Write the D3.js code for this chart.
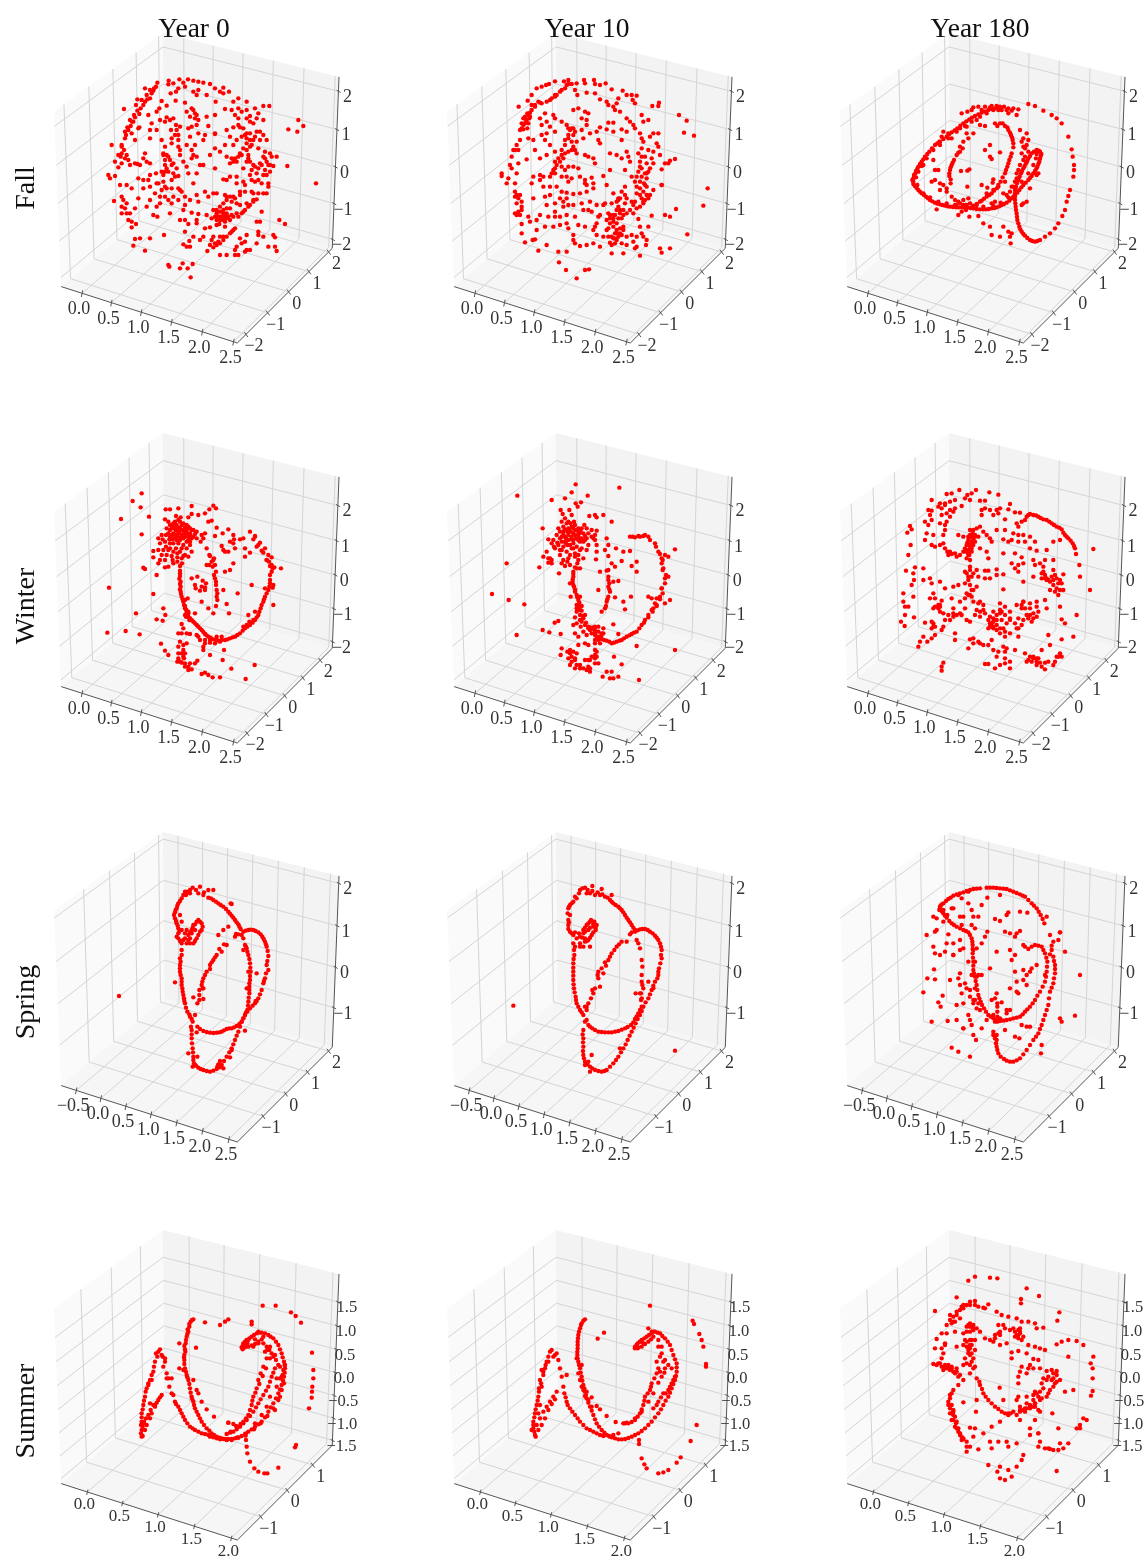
<!DOCTYPE html>
<html><head><meta charset="utf-8">
<script src="https://cdn.jsdelivr.net/npm/d3@7"></script>
<style>html,body{margin:0;padding:0;background:#fff}svg{display:block;filter:blur(0.35px)}text{font-family:"Liberation Serif",serif}</style>
</head><body><div id="chart"></div>
<script>
const seasons=["Fall","Winter","Spring","Summer"];
const years=["Year 0","Year 10","Year 180"];
const xLimits=[[-0.36,2.56],[-0.36,2.56],[-0.81,2.66],[-0.38,2.08]];
const yLimits=[[-2.39,2.19],[-2.5,2.7],[-2.1,2.18],[-1.85,1.8]];
const zLimits=[[-2.25,2.37],[-2.2,2.8],[-2.0,2.17],[-1.61,2.08]];
const xTicks=[[0,0.5,1,1.5,2,2.5],[0,0.5,1,1.5,2,2.5],[-0.5,0,0.5,1,1.5,2,2.5],[0,0.5,1,1.5,2]];
const yTicks=[[-2,-1,0,1,2],[-2,-1,0,1,2],[-1,0,1,2],[-1,0,1]];
const zTicks=[[-2,-1,0,1,2],[-2,-1,0,1,2],[-1,0,1,2],[-1.5,-1,-0.5,0,0.5,1,1.5]];
// Projected positions: [across, down] view units, three per page pixel, flat pairs.
const fallYear0=[285,145,300,150,322,128,318,140,310,152,300,175,285,185,262,178,258,195,272,205,222,207,262,212,252,225,240,240,232,262,225,275,268,262,295,225,320,215,335,183,350,197,328,205,356,122,355,133,370,130,388,118,400,128,414,118,430,122,445,125,460,128,480,132,495,145,510,155,520,160,537,155,520,143,378,155,362,160,385,145,405,140,430,155,445,150,405,188,377,182,440,165,470,165,497,185,525,207,545,210,550,185,565,175,590,185,565,205,575,215,590,210,615,205,640,198,658,198,565,235,600,228,625,220,640,240,610,250,570,262,580,265,550,262,530,270,495,282,465,285,475,258,470,230,495,225,440,225,425,205,435,235,440,255,420,230,410,215,390,260,370,235,350,232,345,245,363,270,380,270,365,295,385,285,365,310,345,320,385,320,390,345,350,345,340,340,360,360,350,385,370,370,345,375,335,395,370,400,385,408,325,430,345,440,345,470,355,480,365,490,330,490,400,365,410,380,430,345,425,355,440,350,450,375,460,375,415,400,440,400,495,385,495,325,495,280,435,315,430,430,390,450,405,470,405,495,420,480,445,485,475,470,500,460,525,465,550,470,570,455,585,455,610,460,640,460,655,430,650,405,660,395,575,290,590,295,600,300,610,300,615,290,590,310,580,325,570,340,555,355,545,355,530,350,560,365,595,355,600,365,615,380,630,370,645,355,660,340,680,350,670,378,645,390,620,400,600,405,580,385,560,410,540,410,520,418,605,420,580,425,585,435,615,425,635,430,655,440,650,460,645,335,625,325,630,300,640,285,630,275,620,275,585,285,712,378,798,430,715,268,745,240,760,258,742,275,185,315,215,315,225,295,255,300,245,280,265,265,215,340,195,365,215,370,205,382,235,360,255,370,270,375,285,340,290,365,300,370,265,415,280,420,295,420,300,405,318,400,175,405,180,415,195,408,210,435,230,435,245,445,215,470,220,480,192,483,230,490,215,500,225,505,215,520,230,520,235,540,245,545,258,552,245,562,320,430,315,460,300,480,310,525,322,530,285,632,255,597,270,595,250,617,300,595,342,585,490,510,500,520,510,515,520,510,530,520,515,530,525,530,520,540,505,530,495,530,485,535,535,530,545,525,560,520,575,520,585,510,600,495,610,485,620,478,570,495,545,485,530,480,520,490,530,505,570,465,555,475,525,545,550,570,540,580,530,590,520,600,510,610,500,615,490,622,490,590,510,590,485,600,470,525,445,522,425,518,390,540,405,540,415,552,440,540,440,550,465,565,480,562,500,555,405,575,575,610,585,605,590,585,625,575,625,585,630,545,620,545,635,515,688,540,705,552,670,585,675,592,675,620,680,633,590,630,600,630,585,635,555,630,555,645,565,645,530,645,510,645,400,613,418,603,420,620,410,620,472,633,355,675,358,680,398,670,390,685,413,685,428,672,422,712,508,552,525,560,246,245,255,232,268,222,280,195,292,178,305,160,312,145,235,270,228,285,215,320,222,330,230,345,212,350,340,345,355,350,345,360,365,375,355,395,375,410,340,405,385,300,378,255,360,240,375,285,390,330,385,445,395,455,350,445,365,445,430,210,435,220,445,240,425,260,415,265,600,320,590,330,575,345,565,350,550,365,540,370,625,385,635,375,650,365,665,350,610,375,605,390,590,365,610,480,595,500,580,515,565,530,550,530,540,505,510,500,500,510,530,470,545,575,555,565,520,590,505,605,495,610,480,615,510,530,520,520,500,540,510,540,530,535,540,540,275,180,290,165,250,245,242,258,340,425,335,450,380,385,345,395,590,280,600,280,605,315,595,345,640,350,655,375,640,405,625,420,540,470,560,490,590,490,205,345,225,355,240,375,262,372,280,355,335,300,300,295,320,270,330,240,305,250,300,270,410,315,425,330,420,290,445,280,460,300,480,345,510,335,525,315,550,315,560,300,540,290,565,255,555,225,600,245,590,235,620,235,650,300,660,375,625,460,605,455,560,430,530,420,490,460,465,455,440,465,400,510,385,480,370,470,365,420,300,440,280,445,265,475,255,505,240,520,290,500,330,470,320,500,360,520,450,600,460,590,430,590,570,595,560,620,640,590,620,610,655,620];
const fallYear10=[236,110,263,92,275,75,290,55,305,50,318,45,327,42,345,34,372,34,385,30,395,42,410,40,432,30,435,40,462,30,465,42,480,45,497,40,515,58,548,62,560,75,575,75,590,77,578,90,585,100,637,108,657,98,655,108,717,135,740,152,732,188,762,197,803,355,790,407,742,493,708,417,675,435,690,440,665,345,665,298,685,280,690,272,705,267,675,280,345,75,380,45,375,55,360,65,350,75,335,85,320,95,305,100,295,95,285,105,275,120,265,135,260,150,255,160,245,175,262,175,240,180,250,165,268,145,300,145,315,130,340,135,345,145,365,155,400,120,415,115,435,125,445,130,425,145,440,150,440,165,425,180,405,60,412,75,440,68,465,70,480,88,500,95,505,105,520,110,530,100,535,85,525,120,540,125,560,145,570,155,580,165,605,135,610,155,625,150,585,175,600,190,520,158,505,158,500,178,480,172,520,185,545,178,560,185,545,210,605,205,630,200,640,190,655,190,650,220,655,230,610,215,605,235,625,240,615,260,635,265,640,245,660,255,605,260,595,250,560,245,565,260,545,265,530,255,510,250,570,275,555,300,600,290,595,305,605,295,630,295,605,320,590,320,620,325,615,345,610,365,605,385,625,385,640,360,665,345,585,335,575,320,555,350,510,300,490,318,455,323,460,340,435,330,460,355,435,340,395,325,385,335,380,320,415,295,400,290,385,290,345,185,320,190,330,170,320,155,305,165,305,195,315,210,330,225,345,245,365,240,375,250,370,265,360,275,350,285,340,300,330,320,310,320,300,330,280,320,275,340,380,165,395,175,405,185,385,195,375,210,395,215,400,230,410,250,385,245,435,255,460,265,465,280,445,260,480,220,475,210,450,190,430,205,470,185,280,210,265,205,240,210,230,225,235,240,225,240,220,240,260,268,215,260,210,285,215,295,235,280,230,310,225,340,205,325,200,340,185,310,185,318,285,240,300,265,320,255,365,365,380,368,400,372,420,370,440,365,330,350,350,350,315,380,320,405,325,440,345,425,370,395,385,405,400,405,425,400,360,440,380,435,370,410,415,465,435,470,445,420,455,425,480,435,490,405,515,400,530,395,555,375,580,405,560,385,535,385,585,395,600,375,620,350,610,395,630,375,615,390,600,410,580,430,560,430,540,430,520,435,505,430,520,445,530,460,545,445,550,420,535,410,510,435,465,470,470,495,500,480,520,470,525,490,530,510,545,495,535,500,525,520,515,525,550,480,595,447,600,470,605,490,625,470,635,437,620,510,580,515,590,530,560,525,515,550,550,550,585,535,600,557,618,525,660,535,690,535,665,548,400,495,400,510,405,520,420,528,440,525,460,520,480,530,505,475,490,500,230,375,225,365,235,385,230,400,245,395,245,420,230,435,240,435,225,430,245,462,245,490,255,517,278,510,285,508,295,542,270,455,290,450,300,435,265,440,357,577,378,600,435,600,447,598,410,625,385,475,320,525,355,545,380,545,345,440,258,155,270,128,250,178,285,110,300,98,330,90,345,80,365,60,385,42,250,145,265,160,390,180,400,195,385,205,410,215,375,225,365,255,355,265,345,295,335,310,345,275,530,420,540,420,525,435,510,445,520,455,535,445,550,435,570,420,590,415,610,400,620,375,612,340,600,335,620,310,530,480,540,475,530,490,520,505,510,518,525,505,540,490,550,470,225,380,240,375,245,410,235,425,270,140,262,130,275,105,255,140,245,160,400,175,385,175,405,240,395,240,375,300,365,290,345,310,365,320,420,320,440,345,380,385,360,385,345,400,330,375,300,315,310,350,280,385,615,310,625,305,640,280,620,280,600,275,590,350,600,355,590,370,575,395,555,400,540,385,495,400,470,405,450,395,430,420,405,440,380,460,360,465,340,470,290,480,315,470,475,440,500,450,510,460,590,500,575,495,610,500,460,480,470,460,505,500,515,500,545,520,560,500,535,390,545,365,520,370,500,345];
const fallYear180=[100,265,102,255,108,243,115,230,125,215,135,200,148,185,165,165,180,155,200,140,215,127,232,115,250,100,268,88,285,78,305,68,325,60,345,55,360,50,100,275,105,288,115,300,125,310,138,320,150,330,165,338,180,343,195,347,210,350,228,352,245,352,262,352,280,355,300,358,318,358,335,355,350,352,365,345,380,338,395,325,405,315,418,300,430,285,445,270,455,258,465,243,472,230,478,215,482,198,480,185,470,180,455,190,445,205,438,220,430,235,423,250,415,270,408,290,405,310,405,330,407,350,410,370,412,390,418,410,425,425,435,437,450,450,465,455,480,450,495,440,510,430,525,415,535,400,547,378,555,360,560,335,565,318,570,300,580,260,582,240,582,225,578,200,575,178,565,140,545,100,530,85,515,75,490,62,465,48,445,42,345,100,360,100,375,108,385,120,393,135,398,150,400,172,395,190,388,210,382,230,375,250,362,275,350,295,335,310,320,320,305,332,290,342,240,185,230,195,222,210,215,225,210,240,208,258,212,280,200,295,190,285,180,280,165,270,155,275,165,240,175,240,130,225,160,210,178,155,190,125,185,140,205,130,215,145,240,115,260,110,262,65,245,70,280,52,295,50,315,50,335,48,350,48,365,60,385,55,400,55,415,58,385,70,290,90,300,105,315,108,260,130,280,130,265,145,250,155,240,170,330,165,315,180,360,187,330,200,335,207,243,243,262,242,268,238,262,290,305,285,322,293,340,268,338,278,300,335,320,310,340,300,355,290,375,275,415,265,470,255,410,75,420,120,440,130,445,150,440,165,430,145,425,155,435,175,445,185,430,210,410,265,180,300,200,305,215,320,225,330,235,335,250,330,265,325,225,345,250,345,245,365,235,375,268,380,295,378,170,358,310,400,330,410,335,435,370,410,385,425,390,440,395,430,360,440,392,460,425,345,450,295,440,335,430,340,395,290,380,315,370,310,345,335,335,340,475,250,103,260,106,250,112,236,120,222,130,208,142,192,156,175,172,160,190,147,207,133,224,121,241,107,259,94,276,83,295,73,315,64,335,57,352,52,372,50,97,270,100,282,110,294,120,305,132,315,144,325,157,334,172,341,187,345,203,349,219,351,236,352,253,353,271,354,290,357,309,358,326,357,343,354,358,349,372,342,388,332,400,320,412,308,424,292,437,278,450,264,460,250,469,236,475,222,480,206,484,192,476,182,462,185,450,198,442,212,434,228,426,243,419,260,411,280,406,300,405,320,406,340,408,360,411,380,415,400,421,418,430,432,442,444,457,453,472,453,108,262,115,245,125,228,140,205,160,180,180,165,205,145,230,125,255,108,275,95,300,80,320,70,340,60,112,285,130,310,150,322,175,335,200,340,228,345,255,345,280,347,310,350,340,348,362,338,385,322,405,300,425,275,445,250,460,225,468,205,470,192,352,108,368,100,382,112,390,128,396,142,400,160,392,200,385,220,378,240,368,262,355,285,342,302,328,315,312,326,248,175,235,188,218,218,212,232,208,250,212,268,278,350,260,345,240,340,258,360,270,340,290,345,430,170,425,190,435,200,440,215,420,225,415,240,410,250,405,275,400,290,390,305,305,60,330,52,355,60,380,60,395,62,275,60];
const winterYear0=[155,40,128,63,152,82,177,110,93,117,155,163,160,263,165,267,200,285,57,323,190,342,220,385,138,400,200,418,226,405,218,422,52,458,107,453,149,463,213,491,225,512,235,525,227,88,240,88,265,85,305,78,258,108,272,112,295,112,305,102,325,105,345,100,358,88,370,77,378,85,355,125,365,122,380,143,375,168,398,160,415,148,430,165,432,178,420,185,225,118,235,125,240,135,250,130,260,135,270,125,280,130,290,135,300,145,310,150,320,155,335,165,345,160,230,145,240,150,250,145,260,150,270,145,280,150,290,150,300,160,310,170,320,175,235,160,245,165,255,165,265,160,275,165,285,160,295,170,305,175,250,175,260,180,270,180,280,175,290,185,300,185,340,175,332,185,215,165,205,175,210,190,225,185,240,190,250,190,265,190,280,195,290,205,300,195,305,215,190,213,205,210,220,210,235,210,250,215,270,215,285,225,295,230,190,232,210,240,225,240,248,240,262,245,275,235,205,250,225,262,235,260,250,250,270,258,270,272,270,288,272,305,272,320,272,335,275,350,280,365,285,360,293,355,285,385,290,395,285,405,295,410,305,420,315,430,325,440,335,450,345,462,355,470,370,478,385,482,405,480,420,475,435,470,450,460,465,445,480,435,495,420,505,405,512,385,520,365,525,350,535,330,540,310,540,285,548,265,545,255,537,245,535,225,525,205,510,188,495,168,480,155,460,175,450,178,430,190,415,215,395,198,405,215,350,205,358,225,370,240,375,255,378,275,375,295,378,315,382,340,382,360,378,378,370,400,355,385,350,255,372,235,358,255,405,275,420,270,430,250,400,210,435,205,465,230,465,205,480,218,495,170,505,195,515,212,530,240,545,232,553,262,573,265,305,295,322,290,338,302,348,310,345,322,317,325,330,332,335,320,345,330,315,315,335,365,400,330,443,340,410,372,550,375,417,400,485,315,550,315,525,325,548,323,475,405,490,420,460,440,470,435,478,425,495,395,300,415,290,410,298,420,315,400,345,480,360,480,380,470,395,470,330,480,325,470,340,500,340,510,345,490,360,525,402,510,398,540,424,566,494,555,467,597,390,592,368,592,335,582,345,578,355,585,275,432,280,445,265,460,275,460,290,460,300,462,320,465,270,485,280,495,265,500,280,510,265,520,285,520,262,545,272,545,285,550,295,560,305,568,300,550,315,550,322,542,280,530,282,535,245,140,255,138,265,142,275,135,285,142,295,140,305,150,315,162,240,170,250,160,262,170,272,172,285,170,295,180,270,280,268,296,270,312,270,328,273,342,278,358,282,375,288,388,295,400,300,415,310,425,320,435,330,445,340,456,350,466,362,473,378,480,395,480,412,478,428,472,442,465,458,452,472,440,488,428,500,412,508,395,515,375,522,358,530,340,538,320,540,300,545,275,540,258,530,240,520,218,500,200,490,178,285,378,295,395,288,410,360,228,365,245,368,260,372,285,378,305,380,330,380,350,276,250,280,228,262,232,300,420,290,400,255,125,265,120,272,150,282,155,258,152,268,155,292,160,302,168,258,168,248,178,238,178,228,165,218,178,228,200,240,205,258,205,275,205,262,220,245,228,230,225,215,225,275,548,285,560,295,570,265,535,275,520,290,490,345,462,360,488,375,490,390,485,380,480];
const winterYear10=[287,13,418,23,275,37,323,47,112,47,255,55,215,60,303,67,287,70,293,80,242,90,248,102,268,90,275,105,255,115,245,125,265,125,328,108,345,105,350,112,370,105,395,125,313,135,188,145,235,145,250,140,265,145,275,140,285,135,295,145,305,145,320,145,335,150,350,152,240,155,250,155,262,155,272,155,285,150,295,155,310,160,325,160,345,165,230,165,245,170,255,170,265,165,275,170,285,165,295,165,305,175,320,175,340,175,205,178,220,180,245,185,255,185,265,180,280,180,295,180,310,185,325,195,350,195,380,175,215,190,235,195,250,200,270,195,290,200,345,180,200,215,225,205,245,210,260,215,280,205,300,210,320,210,350,215,375,210,385,195,190,230,210,235,205,248,215,250,240,225,265,235,285,230,295,240,310,235,348,238,385,228,178,262,245,250,255,258,270,255,290,265,300,265,237,280,360,275,385,270,280,275,280,290,278,305,270,310,282,320,285,335,290,345,272,350,300,350,295,360,290,375,305,378,290,385,300,390,300,405,315,405,310,415,300,420,285,412,305,425,315,435,325,440,335,447,345,450,355,455,345,465,355,470,365,477,380,482,395,490,410,485,425,480,440,470,455,462,470,455,485,435,495,420,505,405,515,390,525,370,540,350,545,325,555,295,565,290,548,270,545,250,545,235,535,215,525,190,510,180,495,165,480,170,465,172,450,170,380,272,385,300,385,320,390,335,385,350,380,365,375,385,365,395,415,303,400,305,408,205,430,215,425,243,450,213,470,245,455,258,405,260,395,250,470,275,355,330,405,352,430,365,435,388,453,350,505,350,515,355,530,355,545,325,555,370,570,360,530,375,520,385,585,208,555,225,565,230,585,510,400,433,415,462,470,498,402,530,425,553,395,575,380,575,368,590,390,595,400,595,415,590,477,600,110,465,80,250,36,342,86,360,133,373,188,450,208,457,242,462,224,428,235,423,245,505,242,525,290,430,280,435,285,460,295,470,310,455,330,450,345,440,370,445,365,460,345,490,360,490,295,495,315,490,325,495,350,515,345,525,335,530,270,510,280,515,290,520,265,535,275,545,290,555,300,565,320,570,330,575,325,540,345,550,355,550,315,540,270,520,285,535,255,148,268,150,280,145,292,150,300,158,315,168,258,175,272,178,288,175,300,185,262,195,275,205,285,220,292,250,285,262,280,282,278,298,280,315,285,328,292,352,298,368,295,380,305,392,308,408,318,428,330,442,345,458,360,473,372,480,388,485,402,488,418,482,432,475,448,466,462,458,478,445,492,428,505,412,518,395,530,378,540,358,548,340,555,310,558,285,550,265,548,240,540,222,528,200,505,170,490,168,475,168,458,170,385,290,388,310,388,328,382,358,378,378,325,445,340,442,355,440,370,460,355,480,345,480,285,540,300,555,310,565,325,560,275,530,260,130,272,130,282,125,250,165,280,160,302,150,258,190,280,190,300,175,315,180,335,170,240,175,232,188,222,200,205,235,215,240,250,240,240,210,270,225,262,245,295,225,305,205,290,395,298,378,302,440,365,465,350,470,335,460,320,465,262,515,270,555,285,565,345,510,350,530,330,565,330,540,345,535];
const winterYear180=[208,30,258,30,298,37,325,44,185,40,170,42,232,45,245,40,225,55,195,60,165,70,150,70,125,60,180,65,215,78,240,60,270,62,285,62,360,72,330,85,355,88,375,97,390,98,285,85,300,90,320,90,325,100,310,105,275,90,275,105,195,85,180,90,165,75,145,80,155,85,115,90,125,92,120,105,105,125,125,120,115,135,155,105,170,100,190,95,180,110,170,125,165,135,165,150,160,165,150,130,60,138,65,148,52,158,62,195,55,225,110,160,105,180,130,165,125,195,135,200,150,195,165,205,180,215,175,225,195,220,210,225,235,225,205,165,220,170,240,150,250,150,260,145,270,140,280,155,290,165,300,175,305,185,235,170,245,170,255,170,265,170,235,180,245,185,255,185,230,195,240,195,250,195,225,205,235,210,245,205,220,215,235,220,230,235,270,205,290,215,295,235,320,150,345,150,385,140,405,120,395,125,415,105,430,105,445,110,460,118,470,120,485,130,500,140,515,148,525,165,535,175,548,190,555,205,558,222,380,130,345,118,370,160,385,165,400,165,420,170,435,185,405,185,385,185,365,180,340,178,355,185,340,220,420,205,440,212,470,210,490,185,510,180,610,207,568,255,570,290,600,330,560,405,550,470,525,430,515,418,510,380,490,240,465,240,450,250,430,240,375,220,395,232,400,250,385,255,365,250,375,265,385,275,435,255,460,260,465,285,490,270,495,285,520,283,455,295,470,295,480,305,490,315,500,325,515,310,520,330,505,345,480,330,430,290,400,305,340,328,320,285,300,295,285,295,285,272,295,272,320,268,340,283,240,260,225,275,235,290,245,290,225,310,240,315,260,320,205,315,190,320,165,325,150,305,120,295,100,265,75,262,70,280,72,300,65,315,48,272,100,300,125,310,130,340,135,355,155,362,150,375,145,385,130,385,70,350,40,340,40,365,45,380,55,380,45,405,72,412,33,425,44,438,105,428,125,425,130,440,155,450,135,465,125,475,112,485,90,485,85,500,195,480,240,478,235,505,120,355,185,355,210,365,235,345,190,385,200,405,225,385,230,420,240,425,215,405,190,400,175,405,165,420,250,365,265,370,280,390,270,410,285,400,295,420,300,430,310,440,320,450,320,405,335,395,330,370,345,380,360,395,380,375,400,365,420,370,440,365,465,360,395,385,410,405,425,425,440,410,440,380,470,385,385,415,380,445,360,460,345,470,330,460,310,425,300,440,385,470,475,465,515,478,480,495,250,475,265,485,280,495,295,495,310,510,325,515,345,515,375,510,405,520,430,530,415,540,440,545,465,548,490,555,510,520,515,530,500,530,455,510,495,545,465,568,360,565,345,535,360,545,330,555,315,565,295,552,285,552,160,548,155,560,155,572,345,550,320,530,305,480,410,110,420,102,438,106,452,114,478,125,492,135,508,143,520,158,530,170,542,182,552,198,240,200,245,188,238,172,250,178,228,215,238,225,232,188,255,165,248,160,240,165,245,215,240,240,160,190,172,215,185,222,200,230,230,280,235,300,240,270,250,280,455,280,465,295,475,300,490,300,460,275,505,310,495,335,400,365,395,375,405,385,420,385,430,400,415,415,400,420,330,400,320,420,310,415,305,430,295,445,330,445,345,455,260,390,270,395,255,405,430,535,425,545,440,535,450,548,210,400,150,380,145,375,135,380,150,395,160,400,180,420,190,410,245,350,230,340,245,330,225,355,280,375,270,365,300,410,310,395,320,435,335,420,350,430,340,445,310,445,360,420,375,430,385,445,395,435,420,405,430,415,445,395,130,430,135,440,160,440,125,445,100,470,195,460,250,490,270,490,340,500,350,505,410,545,420,530,445,535,475,545,505,530,455,560,440,555,470,300,485,290,500,295,510,300,510,330,240,345,250,330,260,270,265,290,330,390,345,405,360,415];
const springYear0=[27,363,195,322,240,45,225,50,248,38,270,35,295,45,310,45,265,55,280,60,295,68,310,75,325,85,340,95,355,110,365,122,375,135,385,148,392,162,362,85,228,60,215,70,205,85,200,100,195,112,195,130,200,145,205,160,205,175,205,190,215,205,230,205,240,205,210,120,215,140,235,180,245,165,250,150,260,140,270,140,278,155,270,170,260,190,250,205,245,175,255,165,225,190,215,225,210,250,210,270,210,290,215,310,215,330,218,350,222,370,225,385,232,410,240,425,248,440,255,420,262,455,280,468,300,473,320,473,335,470,350,462,365,460,380,453,395,440,405,420,412,405,415,380,418,355,418,335,420,315,422,290,420,265,415,240,410,220,405,210,400,190,395,180,375,185,385,178,400,170,415,165,430,165,445,172,457,185,465,200,470,215,475,243,470,270,475,285,465,310,460,325,455,345,445,370,435,385,420,400,405,420,395,440,385,470,375,495,365,520,350,545,335,570,320,582,300,590,280,585,265,578,252,565,250,545,248,520,245,490,245,465,235,535,360,547,405,467,355,155,340,165,325,180,350,210,335,230,320,240,310,255,300,270,290,290,280,310,275,330,268,345,268,375,262,385,280,372,280,340,250,367,365,87,378,177,400,225,415,290,440,295,410,340,437,378,325,568,365,525,340,580,330,558,260,472,232,50,220,60,210,78,202,92,197,105,192,120,198,138,203,152,208,168,200,185,210,198,220,195,235,195,215,165,225,175,240,172,248,158,255,148,265,135,275,145,275,165,265,180,255,198,240,190,230,165,215,240,212,260,210,280,212,300,215,320,217,340,220,360,223,378,228,398,238,418,245,432,270,462,290,471,310,474,328,472,342,466,358,460,372,457,388,447,400,430,408,412,414,392,416,368,418,345,418,325,420,303,421,278,418,252,412,230,408,215,240,55,258,45,282,52,303,70,318,80,332,90,348,102,360,116,370,128,380,142,388,155,407,167,422,164,437,168,452,178,461,192,468,208,473,228,472,258,468,295,462,318,450,358,440,378,428,392,412,410,400,430,390,455,380,482,370,508,358,532,342,558,328,577,310,587,290,588,272,582,258,572,250,555,249,532,246,505,245,478,243,455,262,545,255,570,248,575,322,575,300,282,285,300,305,262,315,247,328,222,342,208,277,320,268,360,278,340];
const springYear10=[25,392,510,527,262,33,240,38,225,45,215,70,205,80,195,90,190,100,195,120,190,135,190,150,195,170,205,180,215,190,225,185,240,190,205,205,245,55,255,55,270,60,285,60,300,65,315,75,325,85,340,95,350,105,360,120,370,135,380,150,390,165,290,42,320,60,235,165,245,150,255,140,265,140,275,150,272,165,260,180,250,195,240,200,232,188,250,165,265,155,225,215,235,215,255,215,210,215,208,240,205,265,205,290,205,315,207,340,212,365,215,385,225,405,235,420,245,405,240,440,250,450,262,460,280,470,300,472,320,472,340,468,360,460,378,450,390,432,400,415,410,395,408,375,408,355,412,330,410,300,412,275,410,255,400,205,405,220,395,195,375,178,390,170,405,163,420,162,435,170,450,182,460,195,468,215,470,250,462,280,460,300,450,320,440,345,430,370,415,395,405,420,392,445,380,470,368,495,355,520,340,545,325,565,305,585,290,590,270,585,255,575,240,560,235,540,235,515,235,490,235,465,260,540,250,560,345,520,300,262,280,290,295,295,310,255,320,235,335,215,350,200,280,310,285,335,265,355,250,385,240,395,270,340,365,200,410,320,415,340,392,355,405,355,430,320,445,340,410,370,460,290,232,40,222,55,210,65,200,85,192,95,188,115,192,142,190,162,200,175,210,172,222,175,235,175,248,45,262,48,278,52,292,58,308,68,320,80,332,90,345,100,355,112,365,128,375,142,385,158,240,158,250,145,258,135,268,140,272,158,265,172,255,188,245,198,225,205,240,170,255,158,265,148,207,225,206,252,205,278,205,302,206,328,209,352,213,375,220,395,230,412,245,435,255,455,270,465,290,471,310,472,330,470,350,464,368,456,385,442,395,424,405,405,380,172,398,166,412,162,428,165,443,175,455,188,465,205,470,225,468,240,466,265,457,310,445,332,435,358,422,382,410,408,398,432,386,458,374,482,362,508,348,532,333,555,315,575,298,588,280,588,262,580,247,568,237,550,234,528,234,502,233,478,240,570,255,590,290,280,303,272,315,245,328,225,342,208,278,300,262,345,258,370,245,395];
const springYear180=[90,95,100,85,115,72,130,62,150,55,170,48,190,42,210,40,230,38,250,38,270,40,290,42,310,50,330,58,345,65,365,85,380,100,392,120,403,145,90,100,100,115,110,128,125,145,140,155,160,165,175,172,185,190,188,210,188,235,190,260,190,285,195,305,200,330,205,360,212,380,222,400,235,420,250,430,270,438,290,435,310,430,330,425,345,410,360,395,375,375,390,350,405,320,410,290,412,260,405,235,395,215,375,210,355,222,340,210,175,50,155,70,145,60,130,100,125,100,175,85,185,105,215,90,232,68,270,60,70,125,80,130,100,140,80,165,75,170,50,180,115,178,150,125,160,125,190,125,205,125,155,150,185,150,195,160,232,170,225,185,215,205,255,132,270,138,295,112,290,120,330,110,352,113,285,170,300,175,315,185,330,168,320,175,410,125,420,180,430,200,450,172,445,195,425,225,430,245,435,270,435,295,430,325,420,350,415,390,405,420,395,450,385,475,370,495,350,525,330,550,310,560,290,557,272,545,262,525,258,505,255,490,262,440,262,410,262,385,245,375,255,370,275,382,290,405,300,405,110,205,105,230,130,205,160,220,150,195,130,240,90,240,75,235,70,215,72,283,52,310,75,313,40,352,65,440,85,382,98,362,92,395,113,438,140,435,160,460,185,450,215,460,190,480,160,460,125,518,145,530,180,545,198,495,230,435,250,470,285,465,315,485,328,490,335,450,350,455,360,455,395,510,393,535,455,440,495,422,450,430,510,300,465,230,450,172,420,238,405,300,380,270,365,280,350,300,320,320,300,340,325,355,320,350,350,330,360,290,340,285,315,290,340,315,315,240,305,255,300,225,260,230,240,280,215,300,175,260,200,220,150,225,130,240,150,295,145,310,120,315,165,325,150,330,180,345,160,385,190,385,210,405,180,435,175,420,140,390,155,355,180,365,190,375,170,340,95,88,108,78,122,68,140,58,160,52,180,45,200,41,95,108,105,122,118,138,132,150,150,160,168,168,180,180,187,200,188,222,189,248,190,272,192,295,197,318,202,345,208,370,216,390,228,410,242,425,260,435,280,437,300,433,320,428,338,418,352,403,368,385,382,362,398,335,408,305,411,275,409,248,400,225,385,212,365,215,345,215,240,38,260,39,280,41,300,46,320,54,338,62,355,75,372,92,386,110,398,132,92,92,88,105,100,105,112,120,425,212,432,258,435,282,432,310,425,338,417,370,410,405,400,435,390,462,378,485,360,510,340,538,320,556,300,560,282,552,265,535,260,515,190,225,195,260,185,300,195,340,200,305,205,300,195,375,205,385,200,400,255,440,250,420,270,430,290,415,262,395,260,355,262,425,250,480,260,480,260,495];
const summerYear0=[398,47,437,47,483,67,497,78,513,98,546,188,550,240,550,265,547,290,546,305,545,323,537,355,498,465,495,472,445,533,412,550,403,550,385,545,373,535,360,515,352,490,350,470,348,450,348,430,190,88,182,95,178,110,175,125,170,140,167,160,165,178,163,195,163,210,165,235,170,255,175,270,180,295,185,320,190,335,195,355,205,375,215,395,230,415,245,430,260,440,275,445,295,447,315,445,335,438,355,425,375,410,395,395,415,365,430,340,445,310,455,285,462,260,465,235,462,215,455,190,445,165,430,145,415,135,395,128,380,130,365,140,350,150,340,160,335,172,355,170,375,162,395,148,410,170,425,190,438,210,385,125,400,160,405,185,410,205,400,230,392,250,385,270,380,295,370,320,365,345,355,375,340,395,325,410,310,402,295,398,375,400,395,375,410,350,420,320,440,290,450,265,460,240,435,235,425,260,415,290,400,315,385,340,370,365,350,390,330,410,310,425,290,432,355,150,370,170,385,160,420,170,435,195,450,230,455,260,465,225,225,97,270,105,285,95,295,88,365,95,365,103,148,160,198,173,148,235,160,240,190,270,200,300,205,310,215,335,230,358,252,380,295,398,90,178,78,190,95,195,105,215,100,230,110,250,115,265,125,265,118,290,125,310,135,335,145,350,155,370,165,390,180,410,195,420,215,430,235,435,250,442,270,448,290,450,320,443,75,215,70,245,60,270,50,295,45,320,40,345,35,370,35,395,35,420,35,440,40,400,55,285,65,270,60,340,75,350,65,370,60,385,50,405,45,420,95,315,85,330,75,345,186,90,178,102,173,118,172,132,168,150,163,168,166,185,162,202,163,222,168,245,172,262,178,282,182,308,187,328,192,345,200,365,210,385,222,405,238,422,252,435,268,443,285,447,305,447,325,442,345,432,365,418,385,403,405,382,422,352,438,325,450,298,459,272,464,248,464,225,458,202,450,178,438,155,422,140,405,130,388,128,372,135,358,145,345,155,338,168,345,172,365,166,385,155,400,140,375,148,345,165,338,178,352,160,418,180,430,200,445,225,458,255,462,280,455,300,445,330,430,355,412,378,392,400,372,418,347,437,325,443,305,450,280,447,412,180,420,205,408,235,398,258,388,282,376,308,367,332,360,360,348,385,332,402,318,408,302,425,435,360,450,320,440,265,430,248,420,275,408,302,392,328,378,352,360,378,340,400,320,418,300,428,110,265,105,205,98,200,85,185,82,200,72,230,65,255,55,280,47,305,42,332,38,358,35,382,33,405,33,430,38,438,38,410,42,395,48,385,55,375,62,360,70,345,80,338,90,322,130,315,138,342,150,360,160,380,172,400,188,415,205,425,225,432,240,440,260,445];
const summerYear10=[375,47,503,92,507,102,523,132,530,150,535,170,543,222,543,230,515,405,497,453,467,502,455,518,430,540,415,547,400,550,365,535,358,523,350,505,342,450,342,462,180,88,170,100,165,115,160,135,158,155,158,175,157,195,160,215,165,235,170,260,175,285,180,305,185,325,195,350,205,375,215,400,230,420,245,435,260,442,280,448,300,447,320,440,340,430,360,415,380,395,400,370,415,345,430,320,440,295,450,270,455,245,455,220,445,195,435,165,420,145,405,130,390,125,380,130,365,140,350,150,338,160,330,170,350,170,370,155,385,140,400,170,410,190,420,210,400,235,395,250,380,280,375,300,360,320,355,345,345,370,330,390,310,400,295,400,385,355,400,335,415,310,430,300,440,280,450,260,420,235,410,260,395,215,355,160,330,175,370,115,380,125,237,128,218,146,200,322,215,348,225,358,245,378,272,396,300,400,155,205,170,225,160,250,165,270,170,290,185,305,90,195,80,180,70,200,65,215,60,235,50,240,45,270,42,295,40,320,35,345,30,370,25,395,25,415,30,435,100,210,105,235,110,260,125,255,115,290,118,310,125,335,135,355,150,375,165,395,185,415,205,425,225,435,55,245,50,290,95,305,85,320,75,335,65,350,55,365,45,385,35,405,20,420,40,370,45,345,175,92,168,105,162,125,159,145,158,165,157,185,158,205,162,225,167,248,172,272,178,295,183,315,190,338,200,362,210,388,222,410,238,428,252,438,270,445,290,448,310,444,330,435,350,423,370,405,390,382,408,358,422,332,435,308,445,282,453,258,455,232,450,208,440,180,428,155,412,138,398,128,385,125,372,135,358,145,344,155,335,165,340,172,360,162,378,148,350,155,338,175,400,150,410,170,405,200,415,215,430,225,440,235,405,245,388,265,378,290,368,310,358,332,350,358,338,380,320,396,305,398,395,345,408,322,422,310,435,290,445,270,418,248,400,278,385,310,370,335,350,365,330,385,280,430,265,435,95,190,85,200,75,185,70,215,62,225,55,255,48,280,42,305,38,332,32,358,28,382,25,405,28,425,32,440,40,420,50,405,60,385,70,360,80,342,90,328,122,322,128,345,142,365,158,385,175,405,195,420,215,430,235,438,255,440,175,300,180,318,190,330,200,350];
const summerYear180=[145,47,165,35,210,38,232,40,320,70,357,93,303,102,303,115,110,97,45,138,418,142,412,167,125,125,140,120,150,110,165,108,175,125,190,128,205,118,230,140,245,150,265,155,290,160,305,170,325,170,345,175,350,190,370,188,130,130,110,150,100,155,90,165,80,180,95,175,105,170,120,160,165,120,195,130,150,175,140,185,160,180,170,190,180,200,150,200,130,205,105,200,80,205,65,205,50,222,45,250,65,250,75,235,110,245,130,240,140,230,155,225,165,225,195,220,210,225,225,210,240,200,255,190,270,195,285,200,295,210,305,225,325,240,345,245,360,250,375,255,235,180,250,180,280,190,300,190,240,240,260,235,275,262,275,280,295,258,320,265,340,282,355,285,330,300,325,310,305,305,300,320,320,325,340,310,360,310,380,318,395,315,410,318,420,345,410,350,400,365,390,375,380,395,360,405,345,415,330,420,315,430,300,425,290,405,295,395,320,395,345,380,365,355,370,340,385,335,295,355,295,335,239,368,250,405,170,405,130,412,168,440,150,250,145,265,135,280,155,290,160,310,150,325,130,345,115,360,100,375,90,390,85,410,90,430,95,445,100,465,105,485,115,500,125,515,140,530,150,545,140,560,175,553,75,240,70,265,65,280,55,295,65,305,80,310,95,305,110,320,115,335,40,297,170,340,180,360,190,385,205,405,225,425,245,440,265,450,280,440,300,435,320,430,345,425,360,440,345,465,330,490,330,510,355,505,300,465,265,445,240,470,215,485,190,505,165,490,150,488,160,515,210,530,235,530,215,550,260,530,265,545,290,535,355,505,360,530,385,550,400,555,415,555,430,550,445,535,415,490,480,490,490,460,500,465,397,445,410,238,425,230,445,225,470,228,490,240,520,275,512,295,518,310,518,340,518,378,513,392,445,275,435,380,460,375,310,570,305,585,290,605,205,600,240,605,232,620,240,640,255,645,275,635,265,615,410,618,90,150,100,170,110,140,120,135,130,120,150,120,145,180,155,185,140,200,160,195,150,225,140,245,145,245,155,240,150,270,160,280,140,295,130,300,150,300,165,305,60,295,75,305,90,315,100,320,85,310,50,300,110,310,120,330,178,350,186,372,197,395,215,415,235,432,255,445,272,445,310,435,330,425,345,415,365,400,385,385,405,355,400,340,380,345,360,380,340,390,320,415,340,425,355,435,90,400,95,420,100,435,90,445,100,450,108,475,115,490,120,505,130,522,110,490,240,210,225,220,285,215,295,195,295,220,310,215,300,205,355,545,375,550,390,552,470,490,480,480,420,535,140,545,130,520,75,300,85,300,95,310,70,315,105,325,150,185,160,190,135,225,150,240,165,255,145,255,155,265,95,385,85,420,100,440,105,455,95,465,110,470,120,510,125,525,340,405,355,395,330,430,315,440,300,440,290,450,350,385,370,370,395,345,400,325,410,330,300,200,290,210,235,205,220,230];
const seasonPoints=[[fallYear0,fallYear10,fallYear180],[winterYear0,winterYear10,winterYear180],[springYear0,springYear10,springYear180],[summerYear0,summerYear10,summerYear180]];
const viewOrigins=[[[50,40],[440,70],[880,90]],[[90,480],[480,480],[890,480]],[[110,875],[505,875],[910,875]],[[130,1290],[525,1290],[920,1265]]];
const W=1145,H=1560,colStep=393,rowShift=[0,400,799,1197];
const svg=d3.select("#chart").append("svg").attr("width",W).attr("height",H).attr("viewBox",[0,0,W,H]);
// mplot3d camera, elevation 30, azimuth -60, distance 10
const el=30*Math.PI/180,az=-60*Math.PI/180,dist=10;
const n=[Math.cos(el)*Math.cos(az),Math.cos(el)*Math.sin(az),Math.sin(el)];
const cross=(a,b)=>[a[1]*b[2]-a[2]*b[1],a[2]*b[0]-a[0]*b[2],a[0]*b[1]-a[1]*b[0]];
const norm=a=>{const l=Math.hypot(...a);return a.map(v=>v/l)};
const dot=(a,b)=>a[0]*b[0]+a[1]*b[1]+a[2]*b[2];
const uVec=norm(cross([0,0,1],n)),vVec=cross(n,uVec);
function camera(p){const d=[p[0]-.5,p[1]-.5,p[2]-.5];const w=dist-dot(d,n);return [dot(d,uVec)/w,dot(d,vVec)/w]}
function fmt(v,dec){return d3.format(dec?".1f":"d")(v).replace("-","\u2212")}
seasons.forEach((season,r)=>years.forEach((year,c)=>{
  const dx=c*colStep,dy=rowShift[r];
  const g=svg.append("g");
  const sx=d3.scaleLinear().domain([camera([0,0,1])[0],camera([1,1,1])[0]]).range([54+dx,339+dx]);
  const sy=d3.scaleLinear().domain([camera([0,1,1])[1],camera([1,0,0])[1]]).range([33+dy,343+dy]);
  const fx=d3.scaleLinear().domain(xLimits[r]).range([0,1]);
  const fy=d3.scaleLinear().domain(yLimits[r]).range([0,1]);
  const fz=d3.scaleLinear().domain(zLimits[r]).range([0,1]);
  const P=(a,b,e)=>{const q=camera([a,b,e]);return [sx(q[0]),sy(q[1])]};
  const poly=(pts,fill)=>g.append("polygon").attr("points",pts.map(p=>P(...p).join(",")).join(" ")).attr("fill",fill);
  poly([[0,0,0],[0,1,0],[0,1,1],[0,0,1]],"#fafafa");
  poly([[0,1,0],[1,1,0],[1,1,1],[0,1,1]],"#f3f3f3");
  poly([[0,0,0],[1,0,0],[1,1,0],[0,1,0]],"#f6f6f6");
  const seg=(a,b,col,w)=>{const A=P(...a),B=P(...b);g.append("line").attr("x1",A[0]).attr("y1",A[1]).attr("x2",B[0]).attr("y2",B[1]).attr("stroke",col).attr("stroke-width",w)};
  const gridCol="#d4d4d4",axisCol="#555";
  xTicks[r].forEach(t=>{const a=fx(t);seg([a,0,0],[a,1,0],gridCol,1);seg([a,1,0],[a,1,1],gridCol,1)});
  yTicks[r].forEach(t=>{const b=fy(t);seg([0,b,0],[1,b,0],gridCol,1);seg([0,b,0],[0,b,1],gridCol,1)});
  zTicks[r].forEach(t=>{const e=fz(t);seg([0,0,e],[0,1,e],gridCol,1);seg([0,1,e],[1,1,e],gridCol,1)});
  seg([0,0,0],[1,0,0],axisCol,1);seg([1,0,0],[1,1,0],axisCol,1);seg([1,1,0],[1,1,1],axisCol,1);
  const label=(A,off,txt,size)=>{const T=[A[0]+off[0],A[1]+off[1]];
    g.append("line").attr("x1",A[0]-off[0]*.2).attr("y1",A[1]-off[1]*.2).attr("x2",A[0]+off[0]*.25).attr("y2",A[1]+off[1]*.25).attr("stroke",axisCol).attr("stroke-width",1);
    g.append("text").attr("x",T[0]).attr("y",T[1]).attr("text-anchor","middle").attr("dominant-baseline","central").attr("font-size",size).attr("fill","#333").text(txt)};
  xTicks[r].forEach(t=>label(P(fx(t),0,0),[-3,r===3?12:15],fmt(t,true),r===3?17:18));
  yTicks[r].forEach(t=>label(P(1,fy(t),0),[8,11],fmt(t,false),18));
  const zDec=zTicks[r].some(t=>t%1!==0);
  zTicks[r].forEach(t=>label(P(1,1,fz(t)),[zDec?9:9,5],fmt(t,zDec),zDec?16.5:18));
  // markers
  const o=viewOrigins[r][c];
  const flat=seasonPoints[r][c];
  const pts=d3.range(0,flat.length-1,2).map(i=>[flat[i],flat[i+1]]);
  const u=d3.scaleLinear().domain([0,300]).range([o[0],o[0]+100]);
  const v=d3.scaleLinear().domain([0,300]).range([o[1],o[1]+100]);
  g.append("g").attr("fill","#ff0000").selectAll("circle").data(pts).join("circle")
    .attr("cx",d=>u(d[0])).attr("cy",d=>v(d[1])).attr("r",2.2);
}));
[194,587,980].forEach((x,i)=>svg.append("text").attr("x",x).attr("y",27).attr("text-anchor","middle").attr("dominant-baseline","central").attr("font-size",27.5).attr("fill","#111").text(years[i]));
[188,606,1002,1411].forEach((y,i)=>svg.append("text").attr("transform",`translate(24,${y}) rotate(-90)`).attr("text-anchor","middle").attr("dominant-baseline","central").attr("font-size",28).attr("fill","#111").text(seasons[i]));
</script></body></html>
